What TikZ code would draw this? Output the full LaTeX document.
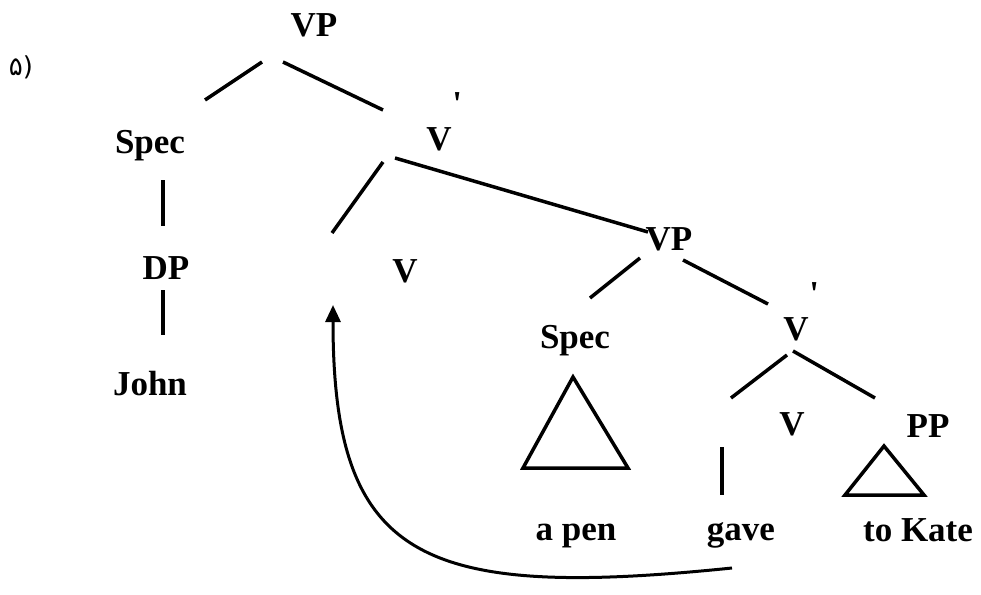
\documentclass[tikz,border=0pt]{standalone}
\usepackage{fontspec}
\setmainfont{Liberation Serif}
\newfontfamily\persianfont{DejaVu Sans}
\usetikzlibrary{arrows.meta}
\newcommand{\Vprime}{V\rlap{\hspace{0.02em}\raisebox{1em}{\textquotesingle}}}

\begin{document}
\begin{tikzpicture}[x=1pt, y=-1pt, lbl/.style = {anchor=base, inner sep=0pt, font=\bfseries\fontsize{35}{40}\selectfont}, branch/.style = {line width=3.5pt}]
  \useasboundingbox (0,0) rectangle (981,594);
  \node[anchor=base, font=\persianfont\fontsize{26}{30}\selectfont] (num) at (21,75) {۵)};
  % upper part
  \node[lbl] (vp1) at (314,37) {VP};
  \node[lbl] (spec1) at (150,153) {Spec};
  \node[lbl] (dp) at (166,279) {DP};
  \node[lbl] (john) at (150,395) {John};
  \node[lbl] (vbar1) at (439,150) {\Vprime};
  \node[lbl] (v1) at (405,282) {V};
  % lower part
  \node[lbl] (vp2) at (669,250) {VP};
  \node[lbl] (spec2) at (575,348) {Spec};
  \node[lbl] (vbar2) at (796,340) {\Vprime};
  \node[lbl] (v2) at (792,435) {V};
  \node[lbl] (pp) at (928,437) {PP};
  \node[lbl] (apen) at (576,540) {a pen};
  \node[lbl] (gave) at (741,540) {gave};
  \node[lbl] (tokate) at (918,541) {to Kate};
  % branches
  \draw[branch] ([shift={(-52,25)}]vp1.base) -- ([shift={(55,-53)}]spec1.base);
  \draw[branch] ([shift={(-31,25)}]vp1.base) -- ([shift={(-56,-40)}]vbar1.base);
  \draw[branch] ([shift={(13,27)}]spec1.base) -- ([shift={(-3,-53)}]dp.base);
  \draw[branch] ([shift={(-3,11)}]dp.base) -- ([shift={(13,-60)}]john.base);
  \draw[branch] ([shift={(-56,12)}]vbar1.base) -- ([shift={(-73,-49)}]v1.base);
  \draw[branch] ([shift={(-44,8)}]vbar1.base) -- ([shift={(-21,-18)}]vp2.base);
  \draw[branch] ([shift={(-29,8)}]vp2.base) -- ([shift={(15,-50)}]spec2.base);
  \draw[branch] ([shift={(14,10)}]vp2.base) -- ([shift={(-28,-36)}]vbar2.base);
  \draw[branch] ([shift={(-9,15)}]vbar2.base) -- ([shift={(-61,-37)}]v2.base);
  \draw[branch] ([shift={(-3,11)}]vbar2.base) -- ([shift={(-53,-39)}]pp.base);
  \draw[branch] ([shift={(-70,12)}]v2.base) -- ([shift={(-19,-45)}]gave.base);
  % triangles
  \draw[branch] ([shift={(-2,29)}]spec2.base) -- ([shift={(-53,-72)}]apen.base) -- ([shift={(52,-72)}]apen.base) -- cycle;
  \draw[branch] ([shift={(-44,9)}]pp.base) -- ([shift={(-73,-46)}]tokate.base) -- ([shift={(6,-46)}]tokate.base) -- cycle;
  % movement
  \draw[line width=3pt, -{Triangle[length=17pt,width=15pt]}] ([shift={(-9,28)}]gave.base) .. controls +(-312,32) and +(0,255) .. ([shift={(-72,23)}]v1.base);
\end{tikzpicture}
\end{document}
